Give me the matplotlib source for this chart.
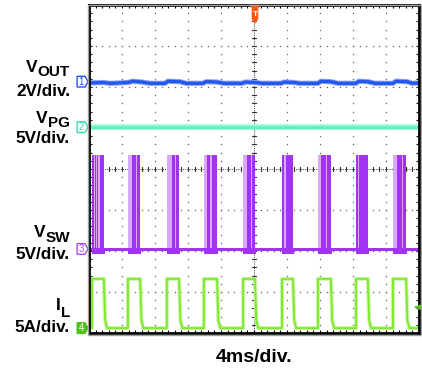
import matplotlib.pyplot as plt
import matplotlib.patches as patches
import numpy as np

plt.rcParams['font.family'] = ['Liberation Sans', 'DejaVu Sans']

# scope screen is 10 x 8 divisions; all values below are in divisions
burst_start = [0.09, 1.18, 2.36, 3.48, 4.67, 5.85, 6.94, 8.09, 9.21]
burst_end = [0.45, 1.55, 2.73, 3.88, 5.03, 6.18, 7.33, 8.45, 9.61]
burst_dark = [
    [(0.09, 0.14), (0.17, 0.20), (0.23, 0.27), (0.33, 0.45)],
    [(1.30, 1.41), (1.44, 1.55)],
    [(2.52, 2.62), (2.65, 2.73)],
    [(3.58, 3.68), (3.72, 3.88)],
    [(4.80, 4.90), (4.93, 5.03)],
    [(5.85, 5.91), (5.96, 6.18)],
    [(7.04, 7.17), (7.20, 7.33)],
    [(8.09, 8.14), (8.18, 8.45)],
    [(9.34, 9.47), (9.51, 9.61)],
]
vsw_low, vsw_high = -1.95, 0.34
il_low, il_high = -3.88, -2.68
vpg_level = 1.02
vout_x = [0, 0.45, 0.64, 1.18, 1.33, 1.61, 1.85, 2.30, 2.39, 2.76, 2.94, 3.45,
          3.55, 3.88, 4.09, 4.64, 4.73, 5.06, 5.24, 5.82, 5.91, 6.21, 6.39,
          6.94, 7.03, 7.33, 7.55, 8.09, 8.18, 8.45, 8.67, 9.21, 9.30, 9.64,
          9.79, 10]
vout_y = [2.10, 2.11, 2.09, 2.11, 2.14, 2.12, 2.09, 2.09, 2.14, 2.13, 2.09, 2.09,
          2.13, 2.12, 2.09, 2.09, 2.12, 2.11, 2.09, 2.09, 2.12, 2.11, 2.09,
          2.09, 2.14, 2.13, 2.09, 2.09, 2.14, 2.13, 2.09, 2.09, 2.14, 2.13,
          2.09, 2.10]
ch_ref = [2.13, 1.02, -1.95, -3.88]
ch_names = ['1', '2', '3', '4']
trig_time = 5.03
trig_level = -3.37

blue = '#2458ec'
teal = '#5ef2c4'
purple = '#a034f2'
lilac = '#d9a8f8'
green = '#7ee82a'
ch_colors = [blue, '#3fd9a8', '#a64cf0', '#4fc21a']

fig = plt.figure(figsize=(4.22, 3.68), dpi=100)
ax = fig.add_axes([89/422, 1-333/368, 330/422, 328/368])
ax.set_xlim(0, 10)
ax.set_ylim(-4, 4)

# graticule
sub = np.arange(0, 10.01, 0.2)
subv = np.arange(-4, 4.01, 0.2)
for gx in [1, 2, 3, 4, 6, 7, 8, 9]:
    ax.plot([gx]*len(subv), subv, ls='none', marker='s', ms=0.9, mew=0, color='#606060', zorder=1)
for gy in [-3, -2, -1, 1, 2, 3]:
    ax.plot(sub, [gy]*len(sub), ls='none', marker='s', ms=0.9, mew=0, color='#606060', zorder=1)
ax.plot([5, 5], [-4, 4], ls=(0, (1, 1)), lw=0.8, color='#555555', zorder=1)
ax.plot([0, 10], [0, 0], ls=(0, (1, 1)), lw=0.8, color='#555555', zorder=1)
for v in subv:
    ax.plot([4.95, 5.05], [v, v], lw=0.8, color='#333333', zorder=1)
for v in sub:
    ax.plot([v, v], [-0.06, 0.06], lw=0.8, color='#333333', zorder=1)

# VOUT
ax.plot(vout_x, vout_y, color='#8fa8f5', lw=3.8, zorder=3, solid_capstyle='butt')
ax.plot(vout_x, vout_y, color=blue, lw=2.4, zorder=3, solid_capstyle='butt')

# VPG
ax.plot([0, 10], [vpg_level]*2, color='#b0f8e2', lw=4.2, zorder=3, solid_capstyle='butt')
ax.plot([0, 10], [vpg_level]*2, color=teal, lw=2.4, zorder=3, solid_capstyle='butt')

# VSW bursts
widths = np.array(burst_end) - np.array(burst_start)
ax.bar(burst_start, vsw_high - vsw_low, width=widths, bottom=vsw_low, align='edge',
       color=lilac, linewidth=0, zorder=3)
for segs in burst_dark:
    a = np.array([s[0] for s in segs])
    b = np.array([s[1] for s in segs])
    ax.bar(a, vsw_high - vsw_low, width=b - a, bottom=vsw_low, align='edge',
           color=purple, linewidth=0, zorder=3)
ax.bar(burst_start, -0.12, width=widths + 0.04, bottom=vsw_low, align='edge',
       color=purple, linewidth=0, zorder=3)
ax.plot([0, 10], [vsw_low]*2, color=purple, lw=2.2, zorder=3, solid_capstyle='butt')

# IL
il_x, il_y = [0.0], [il_low]
for s, e in zip(burst_start, burst_end):
    il_x += [s, s, e, e + 0.04, e + 0.1]
    il_y += [il_low, il_high, il_high, il_low + 0.15*(il_high - il_low), il_low]
il_x.append(10.0)
il_y.append(il_low)
ax.plot(il_x, il_y, color='#c6f6a2', lw=2.8, zorder=3)
ax.plot(il_x, il_y, color=green, lw=1.3, zorder=3)

# frame
for sp in ax.spines.values():
    sp.set_linewidth(2.0)
    sp.set_color('black')
    sp.set_zorder(5)
fig.add_artist(patches.Rectangle((87.5/422, 1-334.5/368), 333/422, 330/368,
                                 transform=fig.transFigure, fill=False, ec='#a0a0a0', lw=1))
ax.set_xticks(sub)
ax.set_yticks(subv)
ax.tick_params(direction='in', length=2.5, width=0.8, top=True, right=True,
               labelbottom=False, labelleft=False)

# channel markers
tr = ax.get_yaxis_transform()
for y, name, col in zip(ch_ref, ch_names, ch_colors):
    filled = name == '4'
    verts = [(-0.036, y - 0.13), (-0.012, y - 0.13), (-0.003, y), (-0.012, y + 0.13), (-0.036, y + 0.13)]
    ax.add_patch(patches.Polygon(verts, closed=True, transform=tr, clip_on=False,
                                 fc=col if filled else 'white', ec=col, lw=1, zorder=6))
    ax.text(-0.024, y, name, transform=tr, ha='center', va='center', fontsize=7,
            color='white' if filled else col, clip_on=False, zorder=7)

# trigger markers
tv = [(trig_time - 0.14, 4.0), (trig_time + 0.14, 4.0), (trig_time + 0.09, 3.92),
      (trig_time + 0.09, 3.66), (trig_time, 3.56), (trig_time - 0.09, 3.66),
      (trig_time - 0.09, 3.92)]
ax.add_patch(patches.Polygon(tv, closed=True, fc='#ff5a14', ec='#ff5a14', lw=0.5, zorder=6, clip_on=False))
ax.text(trig_time, 3.77, 'T', ha='center', va='center', fontsize=6, color='white', zorder=7, fontweight='bold')
ax.annotate('', xy=(9.78, trig_level), xytext=(9.99, trig_level),
            arrowprops=dict(arrowstyle='-|>', color='#4fc21a', lw=1.2, mutation_scale=7), zorder=6)

# labels
rend = fig.canvas.get_renderer()
def sub_label(main, subs, y_main, y_sub):
    t = fig.text(70/422, 1 - y_sub/368, subs, ha='right', va='baseline', fontsize=11, fontweight='bold')
    w = t.get_window_extent(rend).width
    fig.text((70 - w)/422, 1 - y_main/368, main, ha='right', va='baseline', fontsize=12.5, fontweight='bold')

def plain_label(s, y):
    fig.text(70/422, 1 - y/368, s, ha='right', va='baseline', fontsize=12.3, fontweight='bold')

sub_label('V', 'OUT', 72, 76)
plain_label('2V/div.', 96)
sub_label('V', 'PG', 123, 127)
plain_label('5V/div.', 143)
sub_label('V', 'SW', 237, 242)
plain_label('5V/div.', 259)
sub_label('I', 'L', 310, 317)
plain_label('5A/div.', 332)
fig.text(254.5/422, 1 - 362/368, '4ms/div.', ha='center', va='baseline', fontsize=14, fontweight='bold')

fig.savefig('out.png', dpi=100)
